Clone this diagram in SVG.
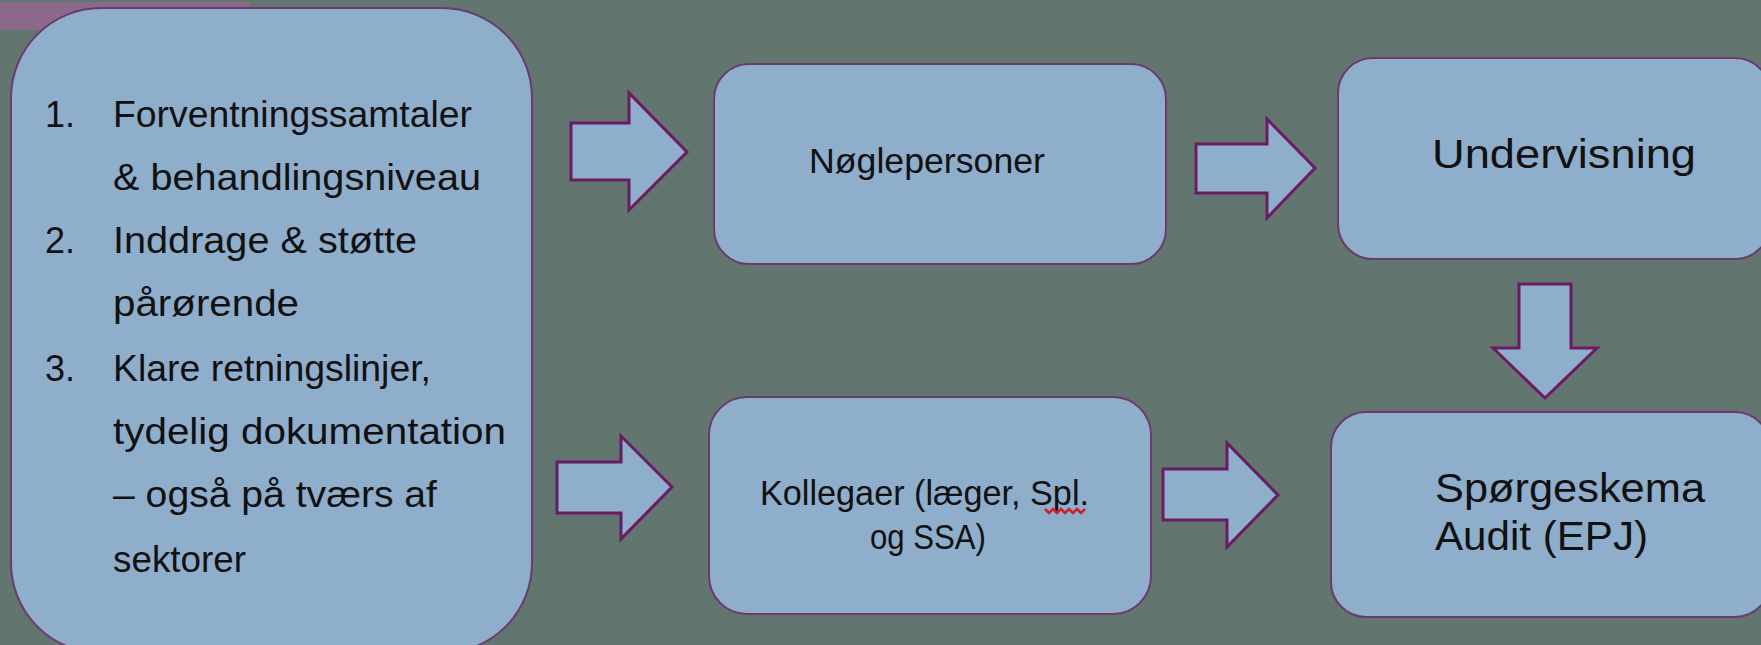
<svg xmlns="http://www.w3.org/2000/svg" width="1761" height="645" viewBox="0 0 1761 645">
<style>
.bg{fill:#63756F}
.box{fill:#8EAECC;stroke:#6B3A6E;stroke-width:2}
.arr{fill:#8EAECC;stroke:#6A1B63;stroke-width:3;stroke-linejoin:miter}
.t{font-family:"Liberation Sans","DejaVu Sans",sans-serif;fill:#111}
.lt{font-size:36px}
</style>
<rect class="bg" x="0" y="0" width="1761" height="645"/>
<rect x="0" y="2" width="250" height="28" fill="#8A6A88"/>
<g id="left-box">
<rect class="box" x="11" y="8" width="521" height="645" rx="90" ry="90"/>
<text class="t lt" x="45" y="127">1.</text>
<text class="t lt" x="113" y="127" textLength="359" lengthAdjust="spacingAndGlyphs">Forventningssamtaler</text>
<text class="t lt" x="113" y="190" textLength="368" lengthAdjust="spacingAndGlyphs">&amp; behandlingsniveau</text>
<text class="t lt" x="45" y="253">2.</text>
<text class="t lt" x="113" y="253" textLength="304" lengthAdjust="spacingAndGlyphs">Inddrage &amp; støtte</text>
<text class="t lt" x="113" y="316" textLength="186" lengthAdjust="spacingAndGlyphs">pårørende</text>
<text class="t lt" x="45" y="381">3.</text>
<text class="t lt" x="113" y="381" textLength="318" lengthAdjust="spacingAndGlyphs">Klare retningslinjer,</text>
<text class="t lt" x="113" y="444" textLength="393" lengthAdjust="spacingAndGlyphs">tydelig dokumentation</text>
<text class="t lt" x="113" y="507" textLength="324" lengthAdjust="spacingAndGlyphs">– også på tværs af</text>
<text class="t lt" x="113" y="572" textLength="133" lengthAdjust="spacingAndGlyphs">sektorer</text>
</g>
<g id="noeglepersoner">
<rect class="box" x="714" y="64" width="452" height="200" rx="35" ry="35"/>
<text class="t" x="809" y="173" font-size="35" textLength="236" lengthAdjust="spacingAndGlyphs">Nøglepersoner</text>
</g>
<g id="undervisning">
<rect class="box" x="1338" y="58" width="432" height="201" rx="35" ry="35"/>
<text class="t" x="1432" y="168" font-size="40" textLength="264" lengthAdjust="spacingAndGlyphs">Undervisning</text>
</g>
<g id="kollegaer">
<rect class="box" x="709" y="397" width="442" height="217" rx="38" ry="38"/>
<text class="t" x="760" y="505" font-size="35" textLength="329" lengthAdjust="spacingAndGlyphs">Kollegaer (læger, Spl.</text>
<text class="t" x="870" y="549" font-size="35" textLength="116" lengthAdjust="spacingAndGlyphs">og SSA)</text>
<path d="M1045,509 l4,4 l4,-4 l4,4 l4,-4 l4,4 l4,-4 l4,4 l4,-4 l4,4 l4,-4" fill="none" stroke="#D02030" stroke-width="2.5"/>
</g>
<g id="spoergeskema">
<rect class="box" x="1331" y="412" width="439" height="205" rx="35" ry="35"/>
<text class="t" x="1435" y="502" font-size="40" textLength="270" lengthAdjust="spacingAndGlyphs">Spørgeskema</text>
<text class="t" x="1435" y="550" font-size="40" textLength="213" lengthAdjust="spacingAndGlyphs">Audit (EPJ)</text>
</g>
<g id="connectors">
<path class="arr" d="M571,123 H629 V93 L687,152 L629,210 V180 H571 Z"/>
<path class="arr" d="M1196,144 H1267 V119 L1315,168 L1267,218 V193 H1196 Z"/>
<path class="arr" d="M1519,284 H1571 V348 H1597 L1545,398 L1493,348 H1519 Z"/>
<path class="arr" d="M557,462 H621 V436 L672,487 L621,539 V513 H557 Z"/>
<path class="arr" d="M1163,469 H1227 V443 L1278,495 L1227,547 V520 H1163 Z"/>
</g>
</svg>
